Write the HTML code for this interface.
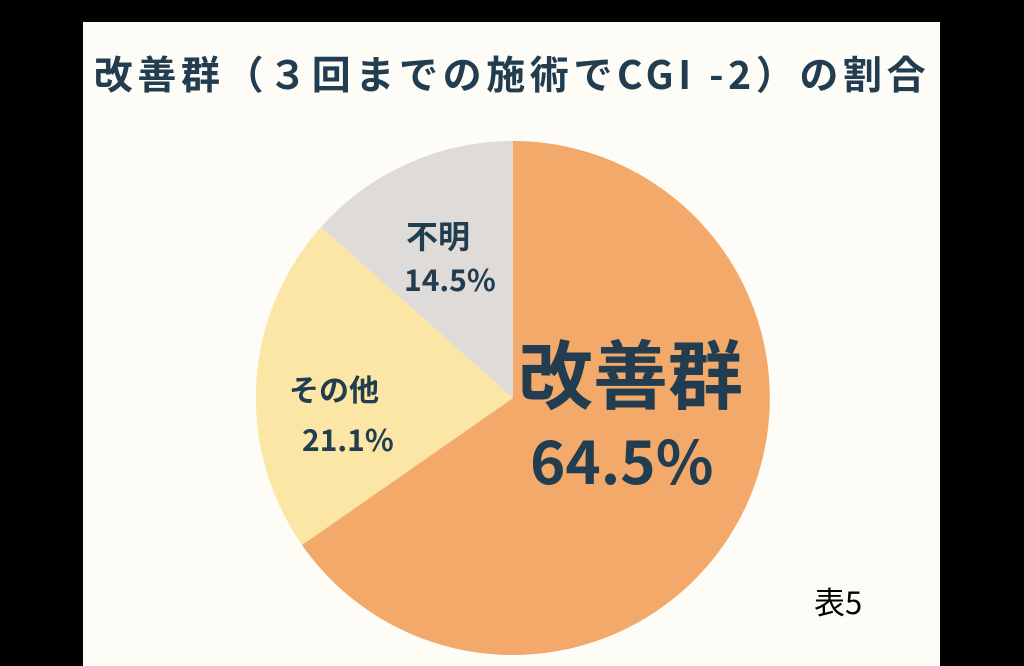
<!DOCTYPE html>
<html><head><meta charset="utf-8"><style>
html,body{margin:0;padding:0;background:#000;}
#wrap{position:relative;width:1024px;height:666px;background:#000;overflow:hidden;font-family:"Liberation Sans","Noto Sans CJK JP",sans-serif;}
#panel{position:absolute;left:83px;top:22px;width:857px;height:644px;background:#fdfcf7;}
.t{position:absolute;color:#233d50;font-weight:bold;white-space:nowrap;font-family:"Noto Sans CJK JP","Liberation Sans",sans-serif;}
</style></head><body><div id="wrap">
<div id="panel"></div>
<div class="t" style="left:86px;top:47px;font-size:39px;line-height:52px;letter-spacing:4.6px;width:852px;text-align:center;">改善群（３回までの施術でCGI -2）の割合</div>
<svg style="position:absolute;left:0;top:0" width="1024" height="666">
<path d="M513,398 L513,141 A257,257 0 1 1 302,545 Z" fill="#f2a96a"/>
<path d="M513,398 L302,545 A257,257 0 0 1 321,227 Z" fill="#fbe6a6"/>
<path d="M513,398 L321,227 A257,257 0 0 1 513,141 Z" fill="#dedbd9"/>
</svg>
<div class="t" style="left:406px;top:212px;font-size:32px;">不明</div>
<div class="t" style="left:404px;top:256px;font-size:30px;">14.5%</div>
<div class="t" style="left:289px;top:366px;font-size:30px;">その他</div>
<div class="t" style="left:302px;top:416px;font-size:30px;">21.1%</div>
<div class="t" style="left:518px;top:316px;font-size:75px;">改善群</div>
<div class="t" style="left:530px;top:415px;font-size:60px;">64.5%</div>
<div class="t" style="left:814px;top:578px;font-size:31px;color:#000;font-weight:normal;">表5</div>
</div></body></html>
